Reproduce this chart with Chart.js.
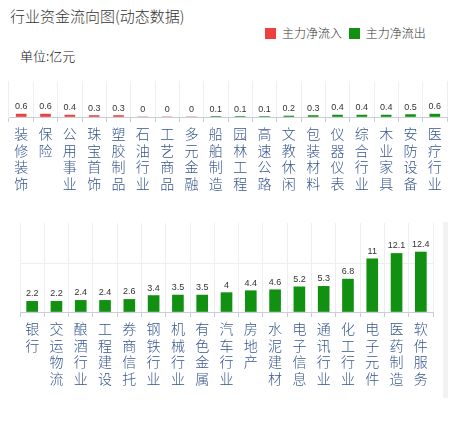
<!DOCTYPE html>
<html>
<head>
<meta charset="utf-8">
<script src="https://cdn.jsdelivr.net/npm/chart.js@4.4.1/dist/chart.umd.min.js"></script>
<style>
  body { margin: 0; background: #fff; font-family: "Noto Sans CJK SC", "Noto Sans", sans-serif; }
  #page { position: relative; width: 473px; height: 421px; overflow: hidden; }
  .title { position: absolute; left: 10px; top: 5px; font-size: 15px; font-weight: 300; color: #333; line-height: 22px; }
  .legend { position: absolute; left: 265px; top: 24px; font-size: 12px; font-weight: 300; color: #333; line-height: 17px; white-space: nowrap; }
  .legend span.box { display: inline-block; width: 11px; height: 11px; vertical-align: -1px; margin-right: 6px; }
  .unit { position: absolute; left: 20px; top: 46px; font-size: 13px; font-weight: 300; color: #111; line-height: 20px; }
  .band { position: absolute; left: 443px; top: 222px; width: 5px; height: 176px; background: #f2f2f2; }
  .wrap { position: absolute; left: 0; width: 473px; }
</style>
</head>
<body>
<div id="page">
  <div class="title">行业资金流向图(动态数据)</div>
  <div class="legend">
    <span class="box" style="background:#ef4040"></span>主力净流入
    <span class="box" style="background:#129012;margin-left:4px"></span>主力净流出
  </div>
  <div class="unit">单位:亿元</div>
  <div class="band"></div>
  <div class="wrap" style="top:70px;height:127px"><canvas id="topChart"></canvas></div>
  <div class="wrap" style="top:205px;height:197px"><canvas id="bottomChart"></canvas></div>
</div>
<script>
const RED = "#ef4040";
const GREEN = "#129012";

// 小额行业 (上排)
const topCategories = ["装修装饰", "保险", "公用事业", "珠宝首饰", "塑胶制品", "石油行业", "工艺商品", "多元金融", "船舶制造",
  "园林工程", "高速公路", "文教休闲", "包装材料", "仪器仪表", "综合行业", "木业家具", "安防设备", "医疗行业"];
const topValues = [0.6, 0.6, 0.4, 0.3, 0.3, 0, 0, 0, 0.1, 0.1, 0.1, 0.2, 0.3, 0.4, 0.4, 0.4, 0.5, 0.6];
const topFlow = ["in", "in", "in", "in", "in", "in", "in", "in", "out", "out", "out", "out", "out", "out", "out", "out", "out", "out"];

// 大额净流出行业 (下排)
const bottomCategories = ["银行", "交运物流", "酿酒行业", "工程建设", "券商信托", "钢铁行业", "机械行业", "有色金属", "汽车行业",
  "房地产", "水泥建材", "电子信息", "通讯行业", "化工行业", "电子元件", "医药制造", "软件服务"];
const bottomValues = [2.2, 2.2, 2.4, 2.4, 2.6, 3.4, 3.5, 3.5, 4, 4.4, 4.6, 5.2, 5.3, 6.8, 11, 12.1, 12.4];

const valueLabels = {
  id: "valueLabels",
  afterDatasetsDraw(chart) {
    const ctx = chart.ctx;
    const meta = chart.getDatasetMeta(0);
    const values = chart.data.datasets[0].data;
    ctx.save();
    ctx.font = "9px 'Liberation Sans', Arial, sans-serif";
    ctx.fillStyle = "#333";
    ctx.textAlign = "center";
    ctx.textBaseline = "bottom";
    meta.data.forEach((bar, i) => {
      ctx.fillText(String(values[i]), bar.x, bar.y - 3);
    });
    ctx.restore();
  }
};

function verticalLabel(name) {
  return name.split("");
}

function buildChart(canvasId, categories, values, colors, opts) {
  return new Chart(document.getElementById(canvasId), {
    type: "bar",
    data: {
      labels: categories.map(verticalLabel),
      datasets: [{
        data: values,
        backgroundColor: colors,
        barThickness: opts.barThickness,
        borderWidth: 0
      }]
    },
    options: {
      responsive: true,
      maintainAspectRatio: false,
      animation: false,
      layout: { padding: opts.padding },
      plugins: { legend: { display: false }, tooltip: { enabled: false } },
      scales: {
        x: {
          offset: true,
          border: { display: true, color: "#c9cdd6" },
          grid: { display: true, offset: true, color: "#eceef2", tickColor: "#c9cdd6", tickLength: 5 },
          ticks: {
            autoSkip: false,
            maxRotation: 0,
            padding: 3,
            color: "#36558f",
            font: { family: "'Noto Sans CJK SC', sans-serif", size: 14, weight: 300, lineHeight: 1.2 }
          },
          afterFit(scale) { scale.height = opts.axisHeight; }
        },
        y: {
          min: 0,
          max: opts.yMax,
          border: { display: false },
          grid: {
            drawTicks: false,
            color: (c) => (opts.gridValues.includes(c.tick.value) ? "#eceef2" : "rgba(0,0,0,0)")
          },
          ticks: { display: false, stepSize: 10 }
        }
      }
    },
    plugins: [valueLabels]
  });
}

buildChart("topChart", topCategories, topValues,
  topFlow.map(f => (f === "in" ? RED : GREEN)),
  { padding: { left: 9, right: 26, top: 11, bottom: 0 }, axisHeight: 80, yMax: 7.5, barThickness: 10, gridValues: [] });

buildChart("bottomChart", bottomCategories, bottomValues,
  bottomValues.map(() => GREEN),
  { padding: { left: 20, right: 40, top: 18, bottom: 0 }, axisHeight: 90, yMax: 18.4, barThickness: 11, gridValues: [10] });
</script>
</body>
</html>
